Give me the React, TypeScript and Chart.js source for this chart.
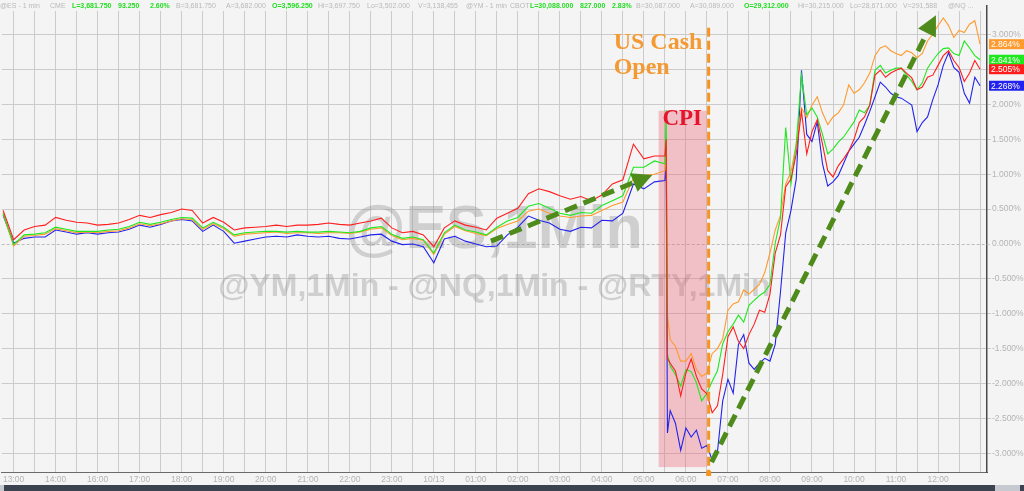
import React, { useEffect, useRef } from 'react';
import { Chart, registerables } from 'chart.js';
Chart.register(...registerables);

// ---------- data ----------
const TIME_LABELS = ['13:00','14:00','16:00','17:00','18:00','19:00','20:00','21:00','22:00','23:00','10/13','01:00','02:00','03:00','04:00','05:00','06:00','07:00','08:00','09:00','10:00','11:00','12:00'];

// time position in hourly-label units (0 = 13:00)
const TIMES = [-0.25,0,0.25,0.5,0.75,1,1.25,1.5,1.75,2,2.25,2.5,2.75,3,3.25,3.5,3.75,4,4.25,4.5,4.75,5,5.25,5.5,5.75,6,6.25,6.5,6.75,7,7.25,7.5,7.75,8,8.25,8.5,8.75,9,9.25,9.5,9.75,10,10.25,10.5,10.75,11,11.25,11.5,11.75,12,12.25,12.5,12.75,13,13.25,13.5,13.75,14,14.25,14.5,14.75,15,15.25,15.5,15.53,15.56,15.625,15.75,15.875,16,16.125,16.25,16.375,16.5,16.625,16.75,16.875,17,17.125,17.25,17.375,17.5,17.625,17.75,17.875,18,18.125,18.25,18.375,18.5,18.625,18.75,18.875,19,19.125,19.25,19.375,19.5,19.625,19.75,19.875,20,20.125,20.25,20.375,20.5,20.625,20.75,20.875,21,21.125,21.25,21.375,21.5,21.625,21.75,21.875,22,22.125,22.25,22.375,22.5,22.625,22.75,22.875,23];

const ES = [0.48,0.06,0.20,0.25,0.27,0.38,0.34,0.31,0.30,0.27, 0.28,0.30,0.35,0.41,0.38,0.42,0.45,0.50,0.48,0.30, 0.38,0.31,0.20,0.23,0.24,0.25,0.27,0.25,0.27,0.27, 0.28,0.30,0.28,0.27,0.30,0.33,0.37,0.23,0.16,0.18, 0.13,-0.04,0.23,0.33,0.27,0.24,0.20,0.37,0.44,0.51, 0.72,0.79,0.75,0.69,0.64,0.68,0.62,0.70,0.86,0.92, 1.43,1.22,1.26,1.26, 1.50,-1.64,
  -1.71,-1.82,-2.18,-1.85,-1.65,-1.90,-2.08,-2.15,-2.42,-2.32, -1.87,-1.33,-1.19,-1.40,-1.50,-1.30,-1.15,-0.95,-0.98,-0.72, -0.13,0.13,0.82,0.93,1.29,1.90,1.29,1.61,1.78,1.43, 1.05,0.96,1.12,1.22,1.33,1.50,1.74,1.82,1.99,2.42, 2.49,2.39,2.45,2.49,2.52,2.45,2.38,2.21,2.25,2.39, 2.42,2.56,2.70,2.77,2.63,2.53,2.33,2.45,2.63,2.505];

const YM = [0.44,-0.01,0.13,0.14,0.16,0.24,0.21,0.18,0.18,0.18, 0.20,0.21,0.25,0.31,0.28,0.31,0.35,0.38,0.37,0.23, 0.31,0.24,0.13,0.16,0.17,0.18,0.18,0.17,0.18,0.17, 0.17,0.18,0.17,0.16,0.18,0.23,0.25,0.14,0.08,0.10, 0.06,-0.13,0.16,0.27,0.20,0.17,0.13,0.24,0.33,0.38, 0.54,0.58,0.51,0.44,0.41,0.45,0.44,0.55,0.62,0.69, 1.10,1.10,1.19,1.15, 1.92,-1.58,
  -1.75,-1.87,-2.04,-1.80,-1.83,-1.99,-2.25,-2.14,-1.97,-1.82, -1.43,-1.26,-1.15,-1.02,-1.12,-0.88,-0.81,-0.74,-0.69,-0.58, 0.01,0.37,1.67,0.86,1.43,2.42,1.85,1.95,1.82,1.57, 1.29,1.36,1.46,1.53,1.64,1.75,1.92,1.88,1.99,2.49, 2.56,2.45,2.49,2.52,2.52,2.42,2.33,2.21,2.31,2.52, 2.63,2.73,2.80,2.81,2.73,2.70,2.91,2.81,2.70,2.641];

const RTY = [0.43,-0.03,0.11,0.12,0.14,0.22,0.19,0.16,0.17,0.16, 0.18,0.19,0.23,0.29,0.26,0.29,0.33,0.36,0.35,0.21, 0.29,0.22,0.11,0.14,0.15,0.16,0.17,0.15,0.16,0.16, 0.15,0.16,0.16,0.15,0.17,0.21,0.23,0.12,0.06,0.08, 0.05,-0.15,0.14,0.25,0.19,0.15,0.12,0.22,0.28,0.33, 0.47,0.50,0.44,0.40,0.38,0.40,0.41,0.48,0.55,0.60, 0.95,0.98,1.00,1.05, 1.45,-1.02,
  -1.37,-1.47,-1.68,-1.68,-1.57,-1.80,-1.90,-1.85,-1.57,-1.50, -1.36,-0.95,-0.86,-0.83,-0.66,-0.72,-0.65,-0.58,-0.41,-0.13, 0.20,0.41,0.86,1.03,1.43,1.95,1.81,1.99,2.11,1.88, 1.71,1.82,1.88,1.99,2.28,2.16,2.21,2.31,2.45,2.70, 2.81,2.84,2.77,2.73,2.70,2.77,2.74,2.67,2.73,2.91, 3.01,3.13,3.24,3.13,2.96,3.06,3.03,3.15,3.20,2.864];

const NQ = [0.41,0.01,0.08,0.10,0.10,0.20,0.17,0.14,0.16,0.14, 0.16,0.17,0.21,0.27,0.24,0.28,0.33,0.35,0.33,0.18, 0.27,0.18,0.01,0.04,0.07,0.10,0.11,0.10,0.13,0.11, 0.10,0.11,0.08,0.07,0.10,0.13,0.14,0.04,-0.01,0.00, -0.04,-0.27,0.07,0.11,0.04,0.00,-0.04,-0.03,0.13,0.24, 0.40,0.34,0.30,0.21,0.18,0.24,0.23,0.34,0.33,0.44, 0.86,0.79,0.89,0.91, 1.20,-2.71,
  -2.39,-2.57,-2.96,-2.64,-2.77,-2.67,-2.93,-2.89,-3.10,-2.98, -2.25,-1.94,-2.14,-1.44,-1.30,-1.71,-1.80,-1.71,-1.64,-1.68, -1.44,-0.69,0.16,0.48,0.93,2.49,1.57,1.47,1.75,1.15, 0.83,0.89,0.98,1.15,1.33,1.43,1.53,1.71,1.90,2.11, 2.32,2.25,2.16,2.11,2.09,2.04,1.99,1.61,1.74,1.82, 2.07,2.28,2.56,2.74,2.53,2.46,2.16,2.02,2.39,2.268];

// annotations in data units
const CPI_BAND = { from: 15.35, to: 16.49, top: 1.91, bottom: -3.2 };
const OPEN_TIME = 16.54;
const OPEN_TOP = 3.1;
const ARROWS = [
  [11.36, 0.04, 15.2, 0.99],
  [16.61, -3.13, 21.95, 3.28],
];

const HEADER = [
  ['@ES - 1 min', 0, 0], ['CME', 50, 0], ['L=3,681.750', 72, 1], ['93.250', 118, 1], ['2.60%', 150, 1],
  ['B=3,681.750', 176, 0], ['A=3,682.000', 226, 0], ['O=3,596.250', 272, 1], ['Hi=3,697.750', 318, 0],
  ['Lo=3,502.000', 367, 0], ['V=3,138,455', 418, 0], ['@YM - 1 min', 466, 0], ['CBOT', 510, 0],
  ['L=30,088.000', 530, 1], ['827.000', 580, 1], ['2.83%', 612, 1], ['B=30,087.000', 636, 0],
  ['A=30,089.000', 690, 0], ['O=29,312.000', 744, 1], ['Hi=30,215.000', 798, 0], ['Lo=28,671.000', 850, 0],
  ['V=291,588', 903, 0], ['@NQ ...', 948, 0],
] as [string, number, number][];

const BG = '#f4f4f4';
const GRID = '#cbcbcb';
const SANS = '"Liberation Sans", Arial, sans-serif';
const SERIF = '"Liberation Serif", "Times New Roman", serif';
const C_ES = '#ff1e1e', C_YM = '#1ee81e', C_RTY = '#ff9a2e', C_NQ = '#2222ee';
const ORANGE = '#f7931e';
const ARROW_GREEN = '#4e8b1b';

function drawArrow(ctx: CanvasRenderingContext2D, x1: number, y1: number, x2: number, y2: number) {
  const head = 20, hw = 10;
  const a = Math.atan2(y2 - y1, x2 - x1);
  const bx = x2 - head * Math.cos(a), by = y2 - head * Math.sin(a);
  ctx.strokeStyle = ARROW_GREEN; ctx.fillStyle = ARROW_GREEN;
  ctx.lineWidth = 5; ctx.setLineDash([13, 7]); ctx.lineCap = 'butt';
  ctx.beginPath(); ctx.moveTo(x1, y1); ctx.lineTo(bx, by); ctx.stroke();
  ctx.setLineDash([]);
  ctx.beginPath();
  ctx.moveTo(x2, y2);
  ctx.lineTo(bx + hw * Math.sin(a), by - hw * Math.cos(a));
  ctx.lineTo(bx - hw * Math.sin(a), by + hw * Math.cos(a));
  ctx.closePath(); ctx.fill();
}

const decor = {
  id: 'decor',
  beforeDraw(chart: any) {
    const { ctx, width, height } = chart;
    ctx.save(); ctx.fillStyle = BG; ctx.fillRect(0, 0, width, height); ctx.restore();
  },
  beforeDatasetsDraw(chart: any) {
    const { ctx, chartArea: ca, scales: { x, y } } = chart;
    ctx.save();
    // dashed zero line
    const y0 = Math.round(y.getPixelForValue(0)) + 0.5;
    ctx.strokeStyle = '#bcbcbc'; ctx.lineWidth = 1; ctx.setLineDash([3, 2]);
    ctx.beginPath(); ctx.moveTo(ca.left, y0); ctx.lineTo(ca.right + 4, y0); ctx.stroke();
    ctx.setLineDash([]);
    // header band
    ctx.fillStyle = BG; ctx.fillRect(0, 0, ca.right - 1, 11);
    ctx.textBaseline = 'middle'; ctx.textAlign = 'left';
    HEADER.forEach(([t, hx, g]) => {
      ctx.font = (g ? 'bold ' : '') + '7px ' + SANS;
      ctx.fillStyle = g ? '#22dd22' : '#b9b9b9';
      ctx.fillText(t, hx, 6);
    });
    // watermark
    const cx = (ca.left + ca.right) / 2;
    ctx.fillStyle = 'rgba(140,140,140,0.36)'; ctx.textAlign = 'center'; ctx.textBaseline = 'alphabetic';
    ctx.font = 'bold 61px ' + SANS; ctx.fillText('@ES,1Min', cx, ca.top + 242);
    ctx.font = 'bold 32px ' + SANS; ctx.fillText('@YM,1Min - @NQ,1Min - @RTY,1Min', cx, ca.top + 290);
    // CPI band
    const bx1 = x.getPixelForValue(CPI_BAND.from), bx2 = x.getPixelForValue(CPI_BAND.to);
    const by1 = y.getPixelForValue(CPI_BAND.top), by2 = y.getPixelForValue(CPI_BAND.bottom);
    ctx.fillStyle = 'rgba(235,100,120,0.36)';
    ctx.fillRect(bx1, by1, bx2 - bx1, by2 - by1);
    ctx.restore();
  },
  afterDatasetsDraw(chart: any) {
    const { ctx, chartArea: ca, scales: { x, y } } = chart;
    ctx.save();
    // US cash open line
    const ox = x.getPixelForValue(OPEN_TIME);
    ctx.strokeStyle = ORANGE; ctx.lineWidth = 3; ctx.setLineDash([9, 4]);
    ctx.beginPath(); ctx.moveTo(ox, y.getPixelForValue(OPEN_TOP)); ctx.lineTo(ox, ca.bottom); ctx.stroke();
    ctx.setLineDash([]);
    ctx.fillStyle = ORANGE; ctx.fillRect(ox - 2.5, ca.bottom - 1, 5, 5);
    // labels
    ctx.textAlign = 'left'; ctx.textBaseline = 'alphabetic';
    ctx.font = 'bold 24px ' + SERIF; ctx.fillStyle = '#f39a33';
    ctx.fillText('US Cash', x.getPixelForValue(14.28), y.getPixelForValue(2.8));
    ctx.fillText('Open', x.getPixelForValue(14.28), y.getPixelForValue(2.44));
    ctx.font = 'bold 23px ' + SERIF; ctx.fillStyle = '#e5132b';
    ctx.fillText('CPI', x.getPixelForValue(15.44), y.getPixelForValue(1.70));
    // arrows
    ARROWS.forEach(([a, b, c, d]) => drawArrow(ctx, x.getPixelForValue(a), y.getPixelForValue(b), x.getPixelForValue(c), y.getPixelForValue(d)));
    ctx.restore();
  },
  afterDraw(chart: any) {
    const { ctx, chartArea: ca, width, height, scales: { y } } = chart;
    ctx.save();
    // last-value badges
    const badges: [number[], string][] = [[RTY, C_RTY], [YM, C_YM], [ES, C_ES], [NQ, C_NQ]];
    ctx.font = '8.5px ' + SANS; ctx.textBaseline = 'middle'; ctx.textAlign = 'left';
    badges.forEach(([arr, col]) => {
      const v = arr[arr.length - 1];
      const py = y.getPixelForValue(v);
      ctx.fillStyle = col; ctx.fillRect(ca.right + 2, py - 5, width - ca.right - 2, 10);
      ctx.fillStyle = '#ffffff'; ctx.fillText(v.toFixed(3) + '%', ca.right + 4, py + 0.5);
    });
    // bottom bar
    ctx.fillStyle = '#3b4350'; ctx.fillRect(0, height - 6, width, 6);
    ctx.fillStyle = '#c6cad0'; ctx.fillRect(995, height - 6, 25, 6); ctx.fillRect(0, height - 6, 4, 6);
    ctx.restore();
  },
};

export default function App() {
  const ref = useRef<HTMLCanvasElement>(null);
  useEffect(() => {
    document.body.style.margin = '0';
    const mk = (arr: number[]) => TIMES.map((t, i) => ({ x: t, y: arr[i] }));
    const chart = new Chart(ref.current as HTMLCanvasElement, {
      type: 'line',
      data: {
        datasets: [
          { label: '@ES', data: mk(ES), borderColor: C_ES },
          { label: '@YM', data: mk(YM), borderColor: C_YM },
          { label: '@RTY', data: mk(RTY), borderColor: C_RTY },
          { label: '@NQ', data: mk(NQ), borderColor: C_NQ },
        ],
      },
      options: {
        animation: false,
        responsive: false,
        devicePixelRatio: 1,
        layout: { padding: 0 },
        elements: { point: { radius: 0 }, line: { borderWidth: 1.1, tension: 0 } },
        plugins: { legend: { display: false }, tooltip: { enabled: false } },
        scales: {
          x: {
            type: 'linear',
            min: -0.285,
            max: 23.165,
            afterFit: (s: any) => { s.height = 19; },
            grid: { color: GRID, drawTicks: false, tickLength: 0 },
            border: { color: '#6a6a6a', width: 1 },
            ticks: {
              stepSize: 0.5,
              includeBounds: false,
              autoSkip: false,
              maxRotation: 0,
              padding: 3,
              color: '#b4b4b4',
              font: { size: 8.5, family: SANS },
              callback: (v: any) => {
                const n = Number(v);
                return Math.abs(n - Math.round(n)) < 1e-6 ? (TIME_LABELS[Math.round(n)] ?? '') : '';
              },
            },
          },
          y: {
            position: 'right',
            min: -3.27,
            max: 3.41,
            afterFit: (s: any) => { s.width = 37; },
            grid: {
              color: (c: any) => (c.tick && Math.abs(c.tick.value) < 1e-6 ? 'rgba(0,0,0,0)' : GRID),
              tickLength: 4,
            },
            border: { color: '#4a4a4a', width: 1.5 },
            ticks: {
              stepSize: 0.5,
              includeBounds: false,
              padding: 1,
              color: '#b4b4b4',
              font: { size: 8.5, family: SANS },
              callback: (v: any) => {
                const n = Math.round(Number(v) * 1000) / 1000;
                return (n === 0 ? 0 : n).toFixed(3) + '%';
              },
            },
          },
        },
      } as any,
      plugins: [decor],
    });
    return () => chart.destroy();
  }, []);
  return (
    <div style={{ width: 1024, height: 491, position: 'relative', background: BG }}>
      <canvas ref={ref} width={1024} height={491} style={{ display: 'block', width: 1024, height: 491 }} />
    </div>
  );
}
